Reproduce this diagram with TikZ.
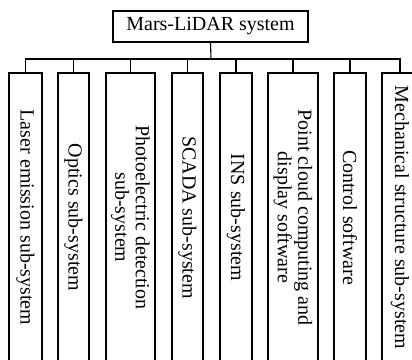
\documentclass[tikz,border=0pt]{standalone}
\usepackage{fontspec}
\setmainfont{Liberation Serif}
\begin{document}
\begin{tikzpicture}[x=1pt,y=1pt,
  box/.style={draw, line width=1.1pt, inner sep=0pt, align=center,
    font=\fontsize{20}{20.5}\selectfont},
  sub/.style={box, rotate=-90, minimum width=289pt},
  link/.style={line width=1.1pt}]
\useasboundingbox (0,0) rectangle (412,359);
\clip (0,0) rectangle (412,359);
\node[box, minimum width=195pt, minimum height=31pt] (top) at (210.5,332.5) {Mars-LiDAR system};
\node[sub, minimum height=33pt] (c1) at (25.5,141.5) {Laser emission sub-system};
\node[sub, minimum height=31pt] (c2) at (73.5,141.5) {Optics sub-system};
\node[sub, minimum height=49pt] (c3) at (130.5,141.5) {Photoelectric detection\\sub-system};
\node[sub, minimum height=31pt] (c4) at (187.5,141.5) {SCADA sub-system};
\node[sub, minimum height=32pt] (c5) at (236,141.5) {INS sub-system};
\node[sub, minimum height=50pt] (c6) at (293,141.5) {Point cloud computing and\\display software};
\node[sub, minimum height=32pt] (c7) at (350,141.5) {Control software};
\node[sub, minimum height=36pt] (c8) at (400,141.5) {Mechanical structure sub-system};
\coordinate (bus) at (211,300);
\draw[link] (top.south) -- (bus);
\draw[link] (c1.west) |- (bus) -| (c8.west);
\foreach \c in {c2,c3,c4,c5,c6,c7}
  \draw[link] (\c.west) -- (\c.west |- bus);
\end{tikzpicture}
\end{document}
